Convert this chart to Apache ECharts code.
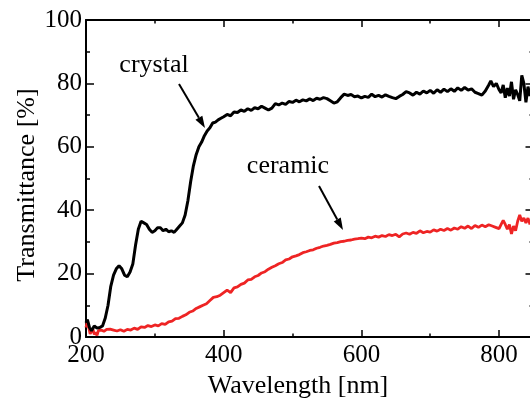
<!DOCTYPE html>
<html>
<head>
<meta charset="utf-8">
<script src="https://cdn.jsdelivr.net/npm/echarts@6/dist/echarts.min.js"></script>
<style>
html,body{margin:0;padding:0;width:530px;height:400px;overflow:hidden;background:#fff;}
#chart{width:534px;height:400px;}
</style>
</head>
<body>
<div id="chart"></div>
<script>
// Wavelength (nm) and transmittance (%)
var crystalNm = [200,202,205,208,212,216,220,224,228,232,236,240,244,248,252,256,260,264,268,272,276,280,284,288,292,296,300,304,308,312,316,320,324,328,332,336,340,344,348,352,356,360,364,368,372,376,380,384,388,392,396,400,405,410,415,420,425,430,435,440,445,450,455,460,465,470,475,480,485,490,495,500,505,510,515,520,525,530,535,540,545,550,555,560,565,570,575,580,585,590,595,600,605,610,615,620,625,630,635,640,645,650,655,660,665,670,675,680,685,690,695,700,705,710,715,720,725,730,735,740,745,750,755,760,765,770,775,780,785,788,792,796,800,803,806,809,812,815,818,821,824,827,830,833,836,839,842,845];
var crystalT = [4.5,5.5,3,2,3.5,2.8,3,3.5,6,10,16,19.5,21.5,22.5,21.5,19.5,19,20.5,23,29,34,36.5,36,35.5,34,33,33.5,34.5,34.5,33.5,34,33.2,33.5,33,34,35,36,38.5,43,49,54,57.5,60,61.5,63.5,65,66,67.5,67.8,68.5,69,69.5,70.2,69.8,71,70.8,71.6,71.2,72,71.5,72.3,72,72.8,72.2,71.6,72.2,73.6,73.2,73.8,73.4,74.3,74,74.7,74.2,74.8,74.5,75.1,74.6,75.3,75,75.5,75.2,74.5,73.8,74.2,75.5,76.6,76.2,76.5,75.8,76,75.4,75.9,75.6,76.6,75.8,76.2,75.7,76.4,75.9,75.5,75.2,75.9,76.5,77.4,77,76.3,77.2,76.6,77.6,77,77.8,76.9,78,77.2,78.2,77.4,78.3,77.5,78.6,77.8,78.7,77.9,78.3,77.2,76.8,76.3,77.6,79.5,80.8,79,80,78,77,79.5,75.5,78.5,76,80.5,75,78,76.5,74.5,82.5,80,74,79,76];

var ceramicNm = [200,202,204,206,208,210,212,214,216,218,222,226,230,235,240,245,250,255,260,265,270,275,280,285,290,295,300,305,310,315,320,325,330,335,340,345,350,355,360,365,370,375,380,385,390,395,400,405,410,415,420,425,430,435,440,445,450,455,460,465,470,475,480,485,490,495,500,505,510,515,520,525,530,535,540,545,550,555,560,565,570,575,580,585,590,595,600,605,610,615,620,625,630,635,640,645,650,655,660,665,670,675,680,685,690,695,700,705,710,715,720,725,730,735,740,745,750,755,760,765,770,775,780,785,790,795,800,803,806,809,812,815,818,821,824,827,830,833,836,839,842,845];
var ceramicT = [3,5,3,1,0.5,2.5,0.8,1.5,0.5,2,2.2,1.8,2.4,2.5,2.2,1.9,2.3,1.8,2.4,2.2,2.8,2.4,3.2,3,3.6,3.3,3.8,3.5,4.2,4,4.8,5,5.8,5.9,6.5,7,7.8,8.2,9,9.5,10,10.5,11.5,12.5,12.7,13.2,14,14.8,14,15.5,15.8,16.6,17,18,18.2,19,19.4,20.2,20.6,21.4,22,22.5,23.1,23.5,24.3,24.6,25.3,25.6,26,26.6,26.9,27.3,27.5,28,28.3,28.7,28.9,29.2,29.6,29.8,30.1,30.2,30.5,30.6,30.9,31,31.2,31,31.5,31.3,31.8,31.5,32,31.7,32.3,32,32.4,31.6,32.5,32.8,32.4,33,32.7,33.5,32.9,33.3,33.1,33.8,33.4,34,33.6,34.2,33.7,34.4,34,34.8,34.3,35,34.2,35.2,34.6,35.3,34.8,35.4,35,34.6,34.2,35.5,36.8,35.5,34,35.5,32.5,35,33.5,36.5,38.5,36.5,37.5,36,37.5,35.5];

var xMin = 200, xMax = 850, xMajor = 200, xMinor = 100;
var yMin = 0, yMax = 100, yMajor = 20;

function pairs(xs, ys){ return xs.map(function(x,i){ return [x, ys[i]]; }); }

var FONT = 'Liberation Serif';
function arrow(x1,y1,x2,y2){
  var dx=x2-x1, dy=y2-y1, L=Math.sqrt(dx*dx+dy*dy), ux=dx/L, uy=dy/L;
  var hl=12, hw=4;
  var bx=x2-ux*hl, by=y2-uy*hl;
  return [
    {type:'line', shape:{x1:x1,y1:y1,x2:bx,y2:by}, style:{stroke:'#000',lineWidth:2}},
    {type:'polygon', shape:{points:[[x2,y2],[bx-uy*hw,by+ux*hw],[bx+uy*hw,by-ux*hw]]}, style:{fill:'#000'}}
  ];
}

function xAx(pos, interval, len, labels, line){
  return {
    type:'value', position:pos, min:xMin, max:xMax, interval:interval,
    axisLine:{show:line, onZero:false, lineStyle:{color:'#000', width:2}},
    axisTick:{show:true, inside:true, length:len, lineStyle:{color:'#000', width:1.5}},
    axisLabel:{show:labels, showMaxLabel:false, color:'#000', fontFamily:FONT, fontSize:25, margin:6},
    splitLine:{show:false}
  };
}
function yAx(pos, labels){
  return {
    type:'value', position:pos, min:yMin, max:yMax, interval:yMajor,
    axisLine:{show:true, onZero:false, lineStyle:{color:'#000', width:2}},
    axisTick:{show:true, inside:true, length:8, lineStyle:{color:'#000', width:1.5}},
    minorTick:{show:true, splitNumber:2, length:4, lineStyle:{color:'#000', width:1.5}},
    axisLabel:{show:labels, color:'#000', fontFamily:FONT, fontSize:25, margin:4},
    splitLine:{show:false}
  };
}

var chart = echarts.init(document.getElementById('chart'), null, {renderer:'canvas'});
chart.setOption({
  animation:false,
  backgroundColor:'#fff',
  grid:{left:86, top:20, right:0.5, bottom:63, containLabel:false},
  xAxis:[xAx('bottom', xMajor, 7, true, true), xAx('bottom', xMinor, 3.5, false, false),
         xAx('top', xMajor, 7, false, true), xAx('top', xMinor, 3.5, false, false)],
  yAxis:[yAx('left', true), yAx('right', false)],
  series:[
    {type:'line', name:'ceramic', data:pairs(ceramicNm, ceramicT), xAxisIndex:0, yAxisIndex:0,
     showSymbol:false, symbol:'none', lineStyle:{color:'#ee2424', width:2.8}, z:3},
    {type:'line', name:'crystal', data:pairs(crystalNm, crystalT), xAxisIndex:0, yAxisIndex:0,
     showSymbol:false, symbol:'none', lineStyle:{color:'#000', width:3}, z:4}
  ],
  graphic:[
    {type:'text', x:298, y:386, style:{text:'Wavelength [nm]', font:'26px "Liberation Serif"', fill:'#000', textAlign:'center', textVerticalAlign:'middle'}},
    {type:'text', x:27, y:185, rotation:Math.PI/2, style:{text:'Transmittance [%]', font:'26px "Liberation Serif"', fill:'#000', textAlign:'center', textVerticalAlign:'middle'}},
    {type:'text', x:154, y:65, style:{text:'crystal', font:'26px "Liberation Serif"', fill:'#000', textAlign:'center', textVerticalAlign:'middle'}},
    {type:'text', x:288, y:166, style:{text:'ceramic', font:'26px "Liberation Serif"', fill:'#000', textAlign:'center', textVerticalAlign:'middle'}}
  ].concat(arrow(179,84,205,128)).concat(arrow(319,186,343,230))
});
</script>
</body>
</html>
